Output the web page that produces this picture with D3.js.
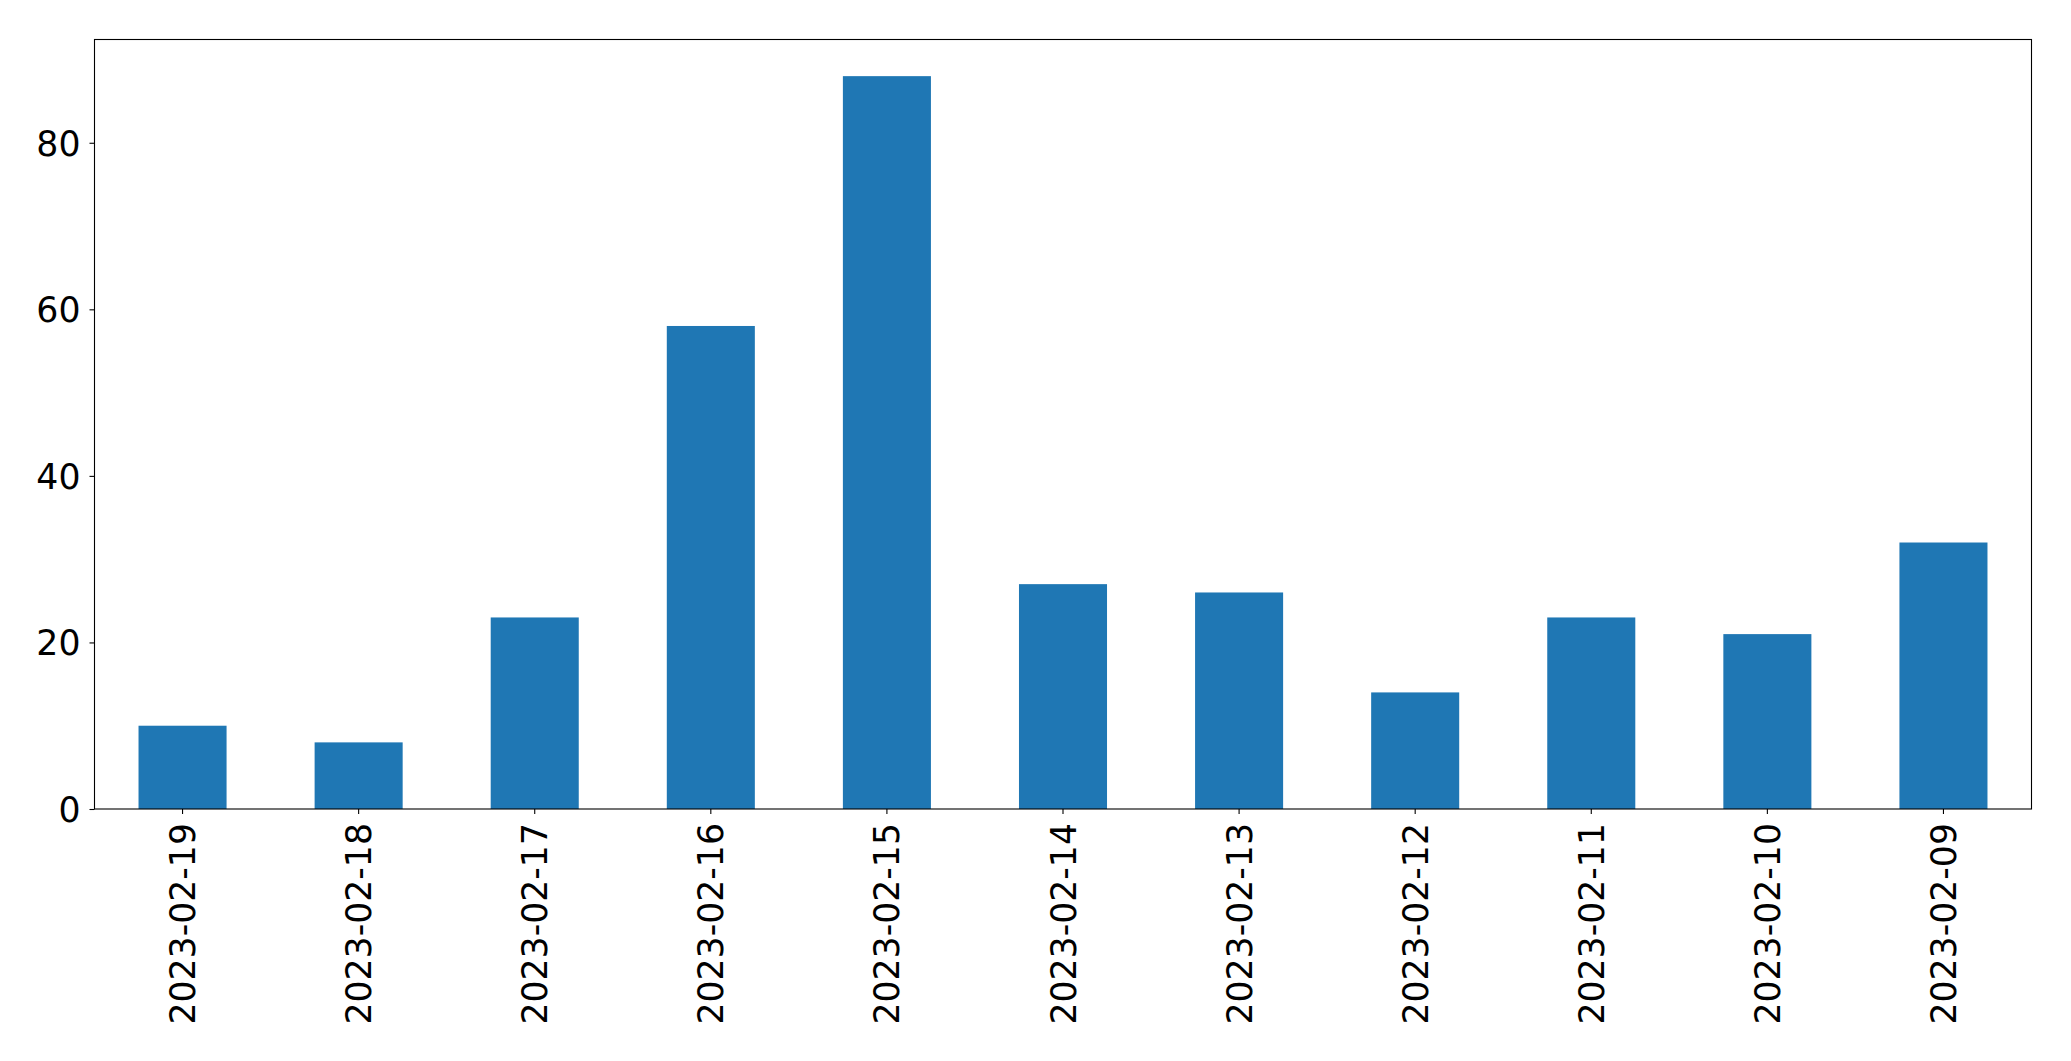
<!DOCTYPE html>
<html><head><meta charset="utf-8">
<script src="https://cdn.jsdelivr.net/npm/d3@7"></script>
<style>body{margin:0;background:#fff}svg{display:block}</style>
</head><body>
<script>
const categories = ["2023-02-19","2023-02-18","2023-02-17","2023-02-16","2023-02-15","2023-02-14","2023-02-13","2023-02-12","2023-02-11","2023-02-10","2023-02-09"];
const values = [10, 8, 23, 58, 88, 27, 26, 14, 23, 21, 32];
const yTicks = [0, 20, 40, 60, 80];

const W = 2071, H = 1061;
const m = {left: 94.5, right: 2031.5, top: 39.5, bottom: 809};
const svg = d3.select("body").append("svg").attr("width", W).attr("height", H);

const x = d3.scaleBand().domain(categories).range([m.left, m.right]).paddingInner(0.5).paddingOuter(0.25);
const y = d3.scaleLinear().domain([0, d3.max(values) * 1.05]).range([m.bottom, m.top]);

svg.append("g").selectAll("rect").data(values).join("rect")
  .attr("x", (d, i) => x(categories[i]))
  .attr("width", x.bandwidth())
  .attr("y", d => y(d))
  .attr("height", d => y(0) - y(d))
  .attr("fill", "#1f77b4");

const font = "DejaVu Sans";
const fs = 34.7;

const yAxis = svg.append("g").attr("transform", `translate(${m.left},0)`)
  .call(d3.axisLeft(y).tickValues(yTicks).tickSize(5).tickPadding(9).tickFormat(d3.format("d")));
yAxis.select(".domain").remove();
yAxis.selectAll("line").attr("stroke", "#000").attr("stroke-width", 1.1);
yAxis.selectAll("text").attr("font-family", font).attr("font-size", fs).attr("fill", "#000").attr("dy", "0.36em");

const xAxis = svg.append("g").attr("transform", `translate(0,${m.bottom})`)
  .call(d3.axisBottom(x).tickSize(5).tickPadding(0));
xAxis.select(".domain").remove();
xAxis.selectAll("line").attr("stroke", "#000").attr("stroke-width", 1.1);
xAxis.selectAll("text")
  .attr("font-family", font).attr("font-size", fs).attr("fill", "#000")
  .attr("text-anchor", "end")
  .attr("transform", "translate(0,14) rotate(-90)")
  .attr("x", 0).attr("y", 0).attr("dy", "0.36em");

svg.append("rect").attr("x", m.left).attr("y", m.top)
  .attr("width", m.right - m.left).attr("height", m.bottom - m.top)
  .attr("fill", "none").attr("stroke", "#000").attr("stroke-width", 1.1);
</script>
</body></html>
